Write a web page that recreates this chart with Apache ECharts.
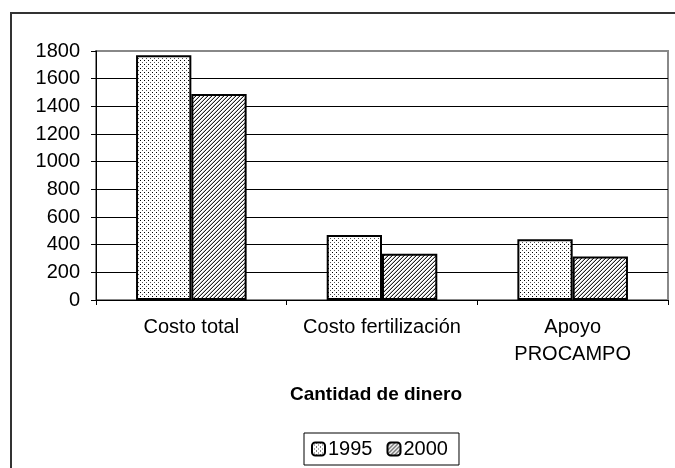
<!DOCTYPE html>
<html><head><meta charset="utf-8">
<script src="https://cdn.jsdelivr.net/npm/echarts@6/dist/echarts.min.js"></script>
<style>html,body{margin:0;padding:0;background:#fff}#c{width:675px;height:468px}</style>
</head><body><div id="c"></div>
<script>
const categories = ['Costo total', 'Costo fertilización', 'Apoyo\nPROCAMPO'];
const seriesNames = ['1995', '2000'];
const values1995 = [1770, 470, 440];
const values2000 = [1490, 335, 315];
const yTicks = { min: 0, max: 1800, interval: 200 };
const axisTitle = 'Cantidad de dinero';

function makeTile(fn) {
  const c = document.createElement('canvas');
  c.width = 4; c.height = 4;
  const ctx = c.getContext('2d');
  ctx.fillStyle = '#fff'; ctx.fillRect(0, 0, 4, 4);
  for (let x = 0; x < 4; x++) for (let y = 0; y < 4; y++) {
    const col = fn(x, y);
    if (col) { ctx.fillStyle = col; ctx.fillRect(x, y, 1, 1); }
  }
  return c;
}
const dots = makeTile((x, y) => (x === 0 && y === 0) ? '#000' : (x === 2 && y === 2) ? '#555' : null);
const hatch = makeTile((x, y) => { const d = (x + y) % 4; return d === 3 ? '#222' : d === 2 ? '#bbb' : null; });

const font = 'Liberation Sans, Arial, sans-serif';
const chart = echarts.init(document.getElementById('c'), null, { renderer: 'canvas' });
chart.setOption({
  animation: false,
  backgroundColor: '#fff',
  textStyle: { fontFamily: font },
  graphic: [{
    type: 'rect', z: -10,
    shape: { x: 11, y: 13, width: 700, height: 500 },
    style: { fill: 'none', stroke: '#333', lineWidth: 2 }
  }],
  grid: { left: 96, right: 7, top: 51, bottom: 168, show: true, borderColor: '#888', borderWidth: 2, backgroundColor: 'transparent' },
  legend: {
    data: seriesNames, left: 304, top: 433, itemWidth: 13, itemHeight: 13, itemGap: 14,
    borderColor: '#000', borderWidth: 1, padding: [6, 11, 6, 7],
    textStyle: { fontSize: 20, color: '#000', fontFamily: font, padding: [0, 0, 0, -2] }
  },
  xAxis: {
    type: 'category', data: categories,
    name: axisTitle, nameLocation: 'middle', nameGap: 85,
    nameTextStyle: { fontSize: 19, fontWeight: 'bold', color: '#000', fontFamily: font, verticalAlign: 'top', padding: [0, 12, 0, 0] },
    axisLine: { lineStyle: { color: '#000', width: 1 } },
    axisTick: { show: true, length: 5, lineStyle: { color: '#000' } },
    axisLabel: { fontSize: 20, color: '#000', margin: 14, lineHeight: 27, fontFamily: font, interval: 0 }
  },
  yAxis: {
    type: 'value', min: yTicks.min, max: yTicks.max, interval: yTicks.interval,
    axisLine: { show: true, lineStyle: { color: '#000', width: 1 } },
    axisTick: { show: true, length: 5, lineStyle: { color: '#000' } },
    axisLabel: { fontSize: 20, color: '#000', margin: 16, fontFamily: font, formatter: v => String(v) },
    splitLine: { show: true, showMaxLine: false, lineStyle: { color: '#000', width: 1 } }
  },
  series: [
    { name: seriesNames[0], type: 'bar', data: values1995, barGap: '0%', barCategoryGap: '42%',
      itemStyle: { color: { image: dots, repeat: 'repeat' }, borderColor: '#000', borderWidth: 2 } },
    { name: seriesNames[1], type: 'bar', data: values2000,
      itemStyle: { color: { image: hatch, repeat: 'repeat' }, borderColor: '#000', borderWidth: 2 } }
  ]
});
</script></body></html>
